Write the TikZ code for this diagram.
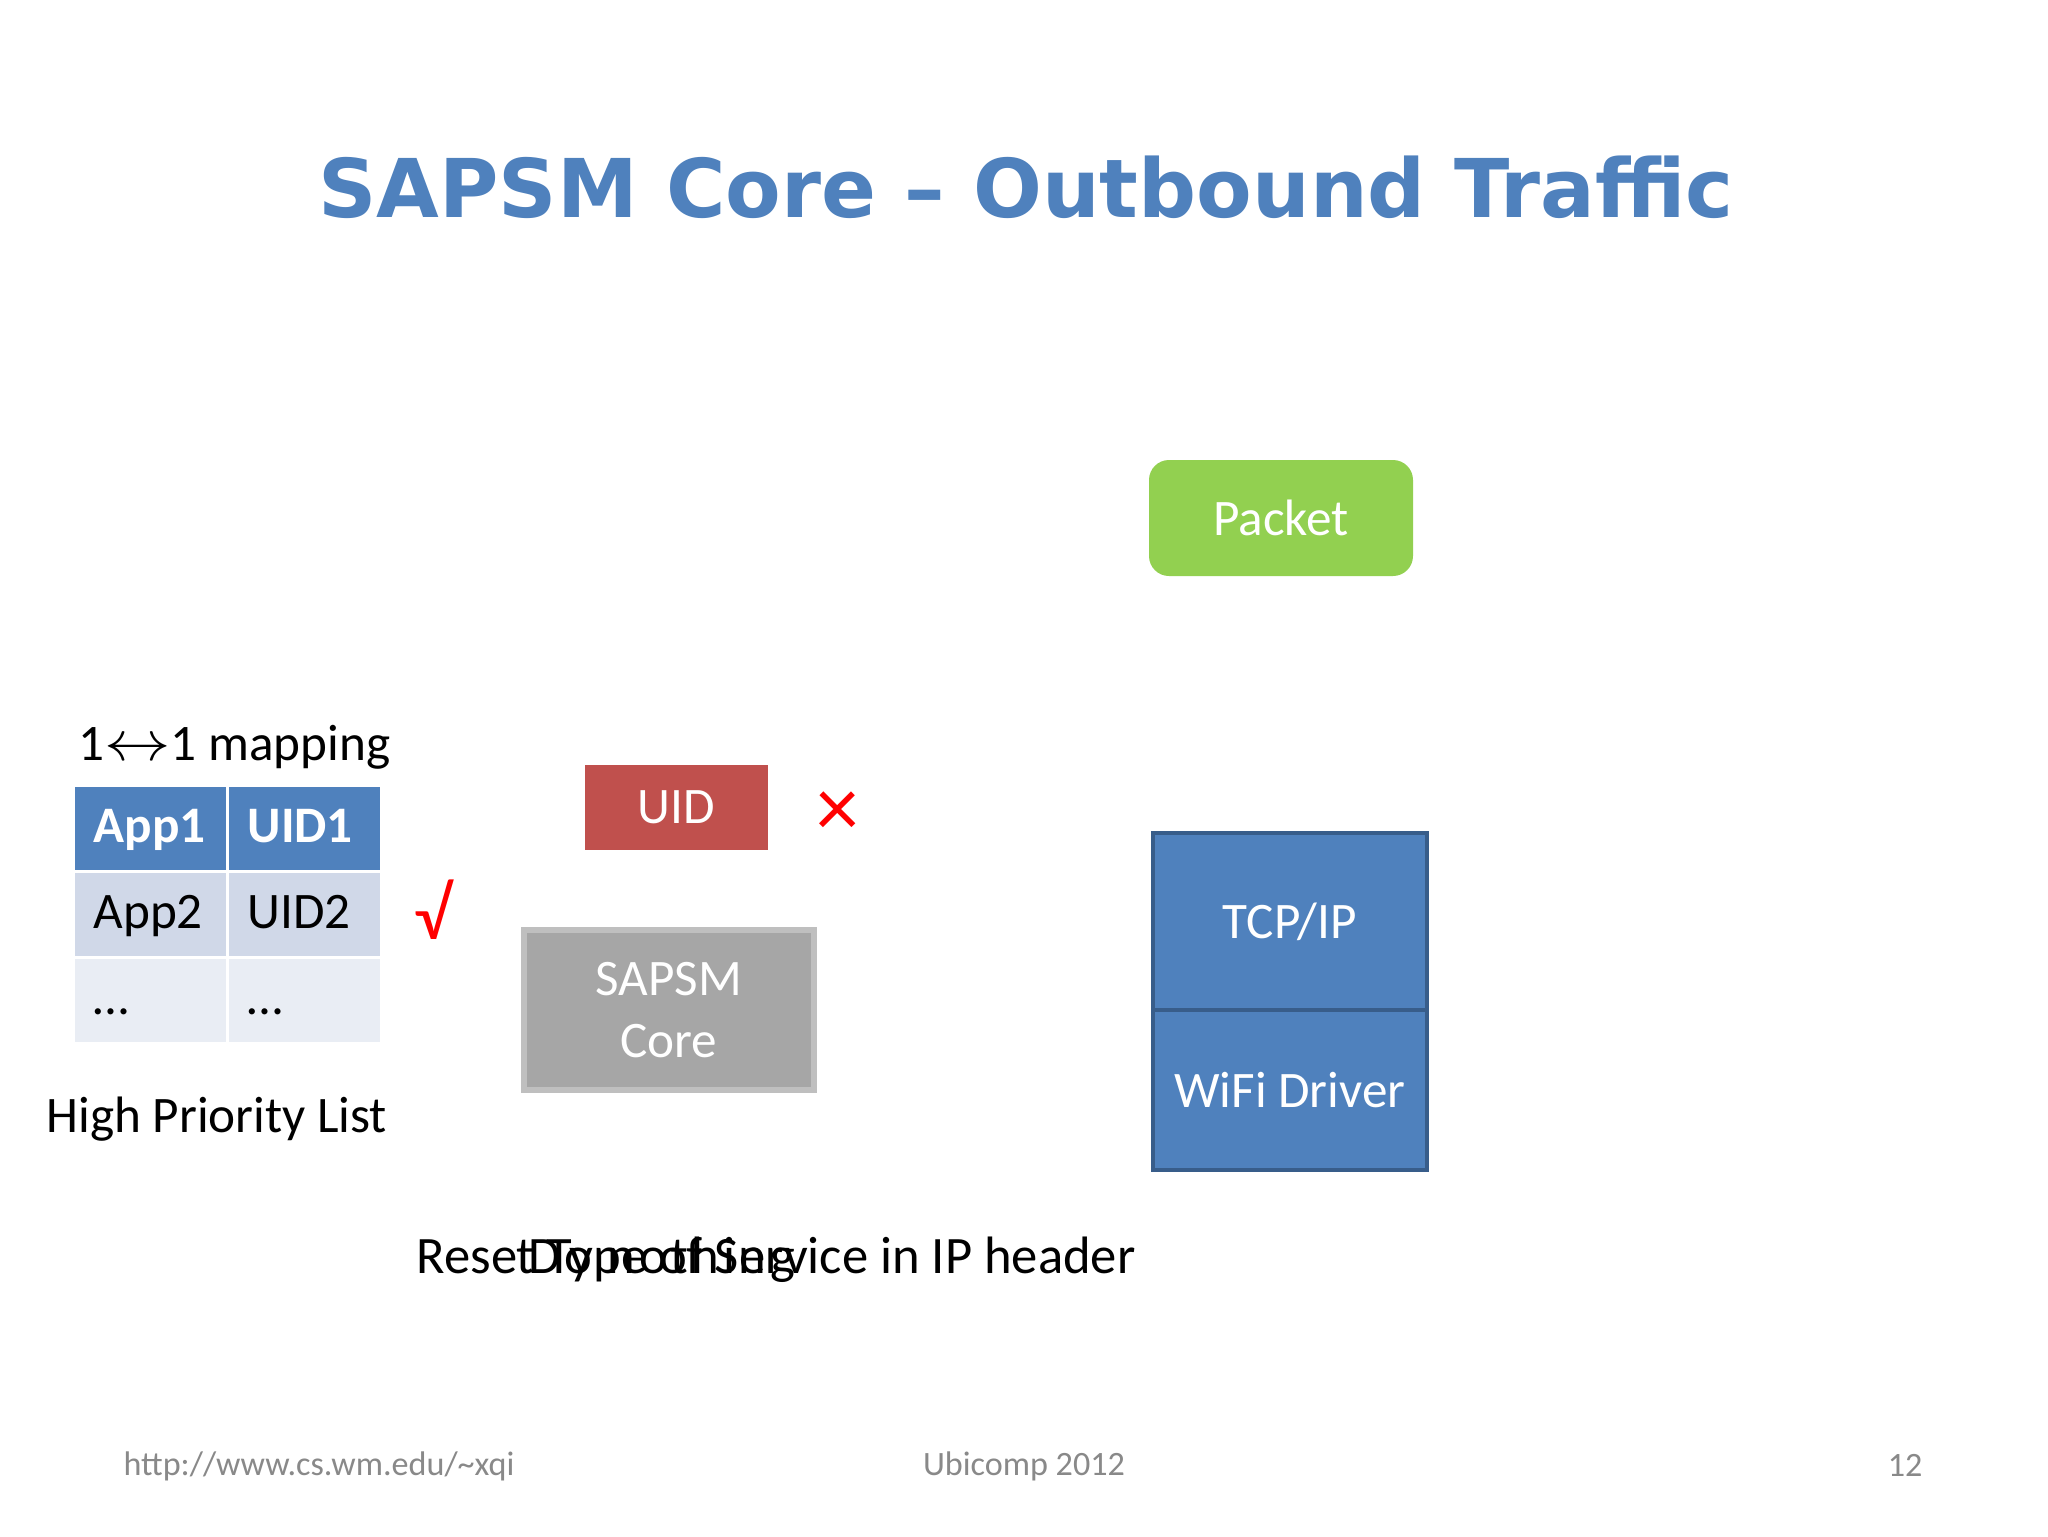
\documentclass[tikz,border=0pt]{standalone}
\usepackage{fontspec}
\setmainfont{Carlito}
\newfontfamily\titlefont{DejaVu Sans}
\def\px{0.3516pt}
\definecolor{titleblue}{HTML}{4F81BD}
\definecolor{hdrblue}{HTML}{4F81BD}
\definecolor{rowa}{HTML}{D0D8E8}
\definecolor{rowb}{HTML}{E9EDF4}
\definecolor{pktgreen}{HTML}{92D050}
\definecolor{uidred}{HTML}{C0504D}
\definecolor{coregray}{HTML}{A6A6A6}
\definecolor{coreedge}{HTML}{BFBFBF}
\definecolor{stackblue}{HTML}{4F81BD}
\definecolor{stackedge}{HTML}{385D8A}
\definecolor{footgray}{HTML}{898989}
\tikzset{
  txt/.style={font=\fontsize{18}{21.6}\selectfont, inner sep=0pt},
  cell/.style={txt, anchor=north west, text width=113*\px, align=left,
    inner xsep=19*\px, inner ysep=0pt, text height=56*\px, text depth=27*\px},
  hdrcell/.style={cell, fill=hdrblue, text=white, font=\fontsize{18}{21.6}\selectfont\bfseries},
  acell/.style={cell, fill=rowa},
  bcell/.style={cell, fill=rowb},
  boxtxt/.style={txt, text=white, align=center},
  foot/.style={font=\fontsize{12}{14}\selectfont, text=footgray, inner sep=0pt},
}
\begin{document}
\begin{tikzpicture}[x=0.3516pt,y=-0.3516pt]
\useasboundingbox[fill=white] (0,0) rectangle (2048,1536);
% title
\node[font=\titlefont\bfseries\fontsize{28.5}{34}\selectfont, text=titleblue, anchor=base, inner sep=0pt] (title) at (1026,217) {SAPSM Core – Outbound Traffic};
% packet
\node[boxtxt, fill=pktgreen, rounded corners=20*\px, minimum width=264*\px, minimum height=116*\px] (packet) at (1281,518) {Packet};
% mapping label
\node[txt, anchor=base west] (maplabel) at (78,760) {1\scalebox{1.35}[1.15]{$\leftrightarrow$}1 mapping};
% table
\node[hdrcell] (c11) at (74,786) {App1};
\node[hdrcell] (c12) at (228,786) {UID1};
\node[acell] (c21) at (74,872) {App2};
\node[acell] (c22) at (228,872) {UID2};
\node[bcell] (c31) at (74,958) {…};
\node[bcell] (c32) at (228,958) {…};
\node[txt, anchor=base west] (hpl) at (46,1132) {High Priority List};
% marks
\node[txt, text=red, font=\fontsize{26}{30}\selectfont] (check) at (433,910) {√};
\node[txt, text=red, font=\fontsize{30}{34}\selectfont] (cross) at (838,814) {×};
% UID box
\node[boxtxt, fill=uidred, minimum width=183*\px, minimum height=85*\px] (uid) at (676.5,807.5) {UID};
% SAPSM core
\node[boxtxt, fill=coregray, draw=coreedge, line width=6*\px, minimum width=290*\px, minimum height=160*\px, font=\fontsize{18}{21.5}\selectfont] (core) at (668.5,1010) {SAPSM\\Core};
% stack
\node[boxtxt, fill=stackblue, draw=stackedge, line width=4*\px, minimum width=274*\px, minimum height=177*\px] (tcp) at (1290,921.5) {TCP/IP};
\node[boxtxt, fill=stackblue, draw=stackedge, line width=4*\px, minimum width=274*\px, minimum height=160*\px] (wifi) at (1290,1090) {WiFi Driver};
% overlapping captions
\node[txt, anchor=base west, font=\fontsize{18.5}{22}\selectfont] (reset) at (416,1273) {Reset Type of Service in IP header};
\node[txt, anchor=base west, font=\fontsize{18.5}{22}\selectfont\addfontfeature{LetterSpace=7}] (donothing) at (528,1273) {Do nothing};
% footer
\node[foot, anchor=base west] (url) at (123,1475) {http://www.cs.wm.edu/\textasciitilde xqi};
\node[foot, anchor=base] (conf) at (1024,1475) {Ubicomp 2012};
\node[foot, anchor=base east] (page) at (1923,1476) {12};
\end{tikzpicture}
\end{document}
